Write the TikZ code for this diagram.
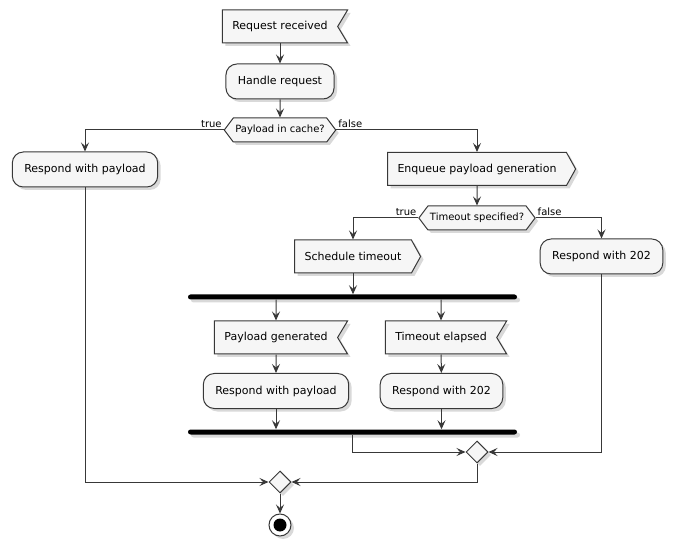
\documentclass[tikz,border=0pt]{standalone}
\usepackage{fontspec}
\setmainfont{DejaVu Sans}
\usetikzlibrary{shapes.symbols,shapes.geometric,arrows.meta,shadows}
\definecolor{umlline}{RGB}{56,56,56}
\definecolor{umlfill}{RGB}{246,246,246}
\tikzset{
  flow/.style={draw=umlline,line width=1pt,-{Stealth[length=9pt,width=8pt,inset=3.5pt]}},
  boxshadow/.style={drop shadow={shadow xshift=3pt,shadow yshift=-3pt,opacity=0.3}},
  boxlook/.style={draw=umlline,fill=umlfill,line width=1pt,boxshadow},
  action/.style={boxlook,rounded corners=11pt,minimum height=35pt,inner xsep=12pt,font=\fontsize{11}{13}\selectfont},
  recvbox/.style={boxlook,signal,signal to=nowhere,signal from=east,signal pointer angle=118,minimum height=33pt,inner xsep=10pt,font=\fontsize{11}{13}\selectfont},
  sendbox/.style={boxlook,signal,signal to=east,signal pointer angle=122,minimum height=33pt,inner xsep=10pt,font=\fontsize{11}{13}\selectfont},
  testbox/.style={boxlook,signal,signal to=east and west,signal pointer angle=106,minimum height=24pt,inner xsep=2pt,font=\fontsize{10}{12}\selectfont},
  mergept/.style={boxlook,diamond,minimum width=22pt,minimum height=22pt,inner sep=0pt},
  bar/.style={fill=black,rounded corners=2.5pt,minimum width=329pt,minimum height=5pt,inner sep=0pt,boxshadow},
  endpt/.style={circle,draw=umlline,fill=white,line width=1pt,minimum size=22pt,inner sep=0pt,boxshadow,
    path picture={\fill[black] (path picture bounding box.center) circle (6.5pt);}},
  branchlbl/.style={font=\fontsize{10}{12}\selectfont,inner sep=1.5pt,text=black}
}
\begin{document}
\begin{tikzpicture}[x=1pt,y=-1pt]
  \useasboundingbox (0,0) rectangle (675,545);
  % main column
  \node[recvbox] (reqin) at (280,26.5) {Request received};
  \node[action] (handle) at (280,81.5) {Handle request};
  \node[testbox] (incache) at (280,130) {Payload in cache?};
  \node[action] (sendcached) at (85,169.5) {Respond with payload};
  \node[sendbox] (enqueue) at (477,169) {Enqueue payload generation};
  \node[testbox] (hastimeout) at (477,218) {Timeout specified?};
  \node[sendbox] (schedule) at (353,256.5) {Schedule timeout};
  \node[action] (accepted) at (601.5,256.5) {Respond with 202};
  % fork / join
  \node[bar] (forkbar) at (352.5,297) {};
  \node[recvbox] (generated) at (276,337.5) {Payload generated};
  \node[recvbox] (elapsed) at (441,337.5) {Timeout elapsed};
  \node[action] (sendgen) at (276,391) {Respond with payload};
  \node[action] (sendlate) at (441.5,391) {Respond with 202};
  \node[bar] (joinbar) at (352.5,432) {};
  % merges and end
  \node[mergept] (mergeinner) at (477,452) {};
  \node[mergept] (mergeouter) at (280,482) {};
  \node[endpt] (stop) at (280,525) {};

  \draw[flow] (reqin) -- (handle);
  \draw[flow] (handle) -- (incache);
  \draw[flow] (incache.west) -| (sendcached) node[pos=0,anchor=south east,branchlbl] {true};
  \draw[flow] (incache.east) -| (enqueue) node[pos=0,anchor=south west,branchlbl] {false};
  \draw[flow] (enqueue) -- (hastimeout);
  \draw[flow] (hastimeout.west) -| (schedule) node[pos=0,anchor=south east,branchlbl] {true};
  \draw[flow] (hastimeout.east) -| (accepted) node[pos=0,anchor=south west,branchlbl] {false};
  \draw[flow] (schedule.south) -- (schedule.south |- forkbar.north);
  \draw[flow] (forkbar.south -| generated) -- (generated);
  \draw[flow] (forkbar.south -| elapsed) -- (elapsed);
  \draw[flow] (generated) -- (sendgen);
  \draw[flow] (elapsed) -- (sendlate);
  \draw[flow] (sendgen) -- (sendgen |- joinbar.north);
  \draw[flow] (sendlate) -- (sendlate |- joinbar.north);
  \draw[flow] (joinbar.south) |- (mergeinner.west);
  \draw[flow] (accepted) |- (mergeinner.east);
  \draw[flow] (mergeinner.south) |- (mergeouter.east);
  \draw[flow] (sendcached) |- (mergeouter.west);
  \draw[flow] (mergeouter) -- (stop);
\end{tikzpicture}
\end{document}
